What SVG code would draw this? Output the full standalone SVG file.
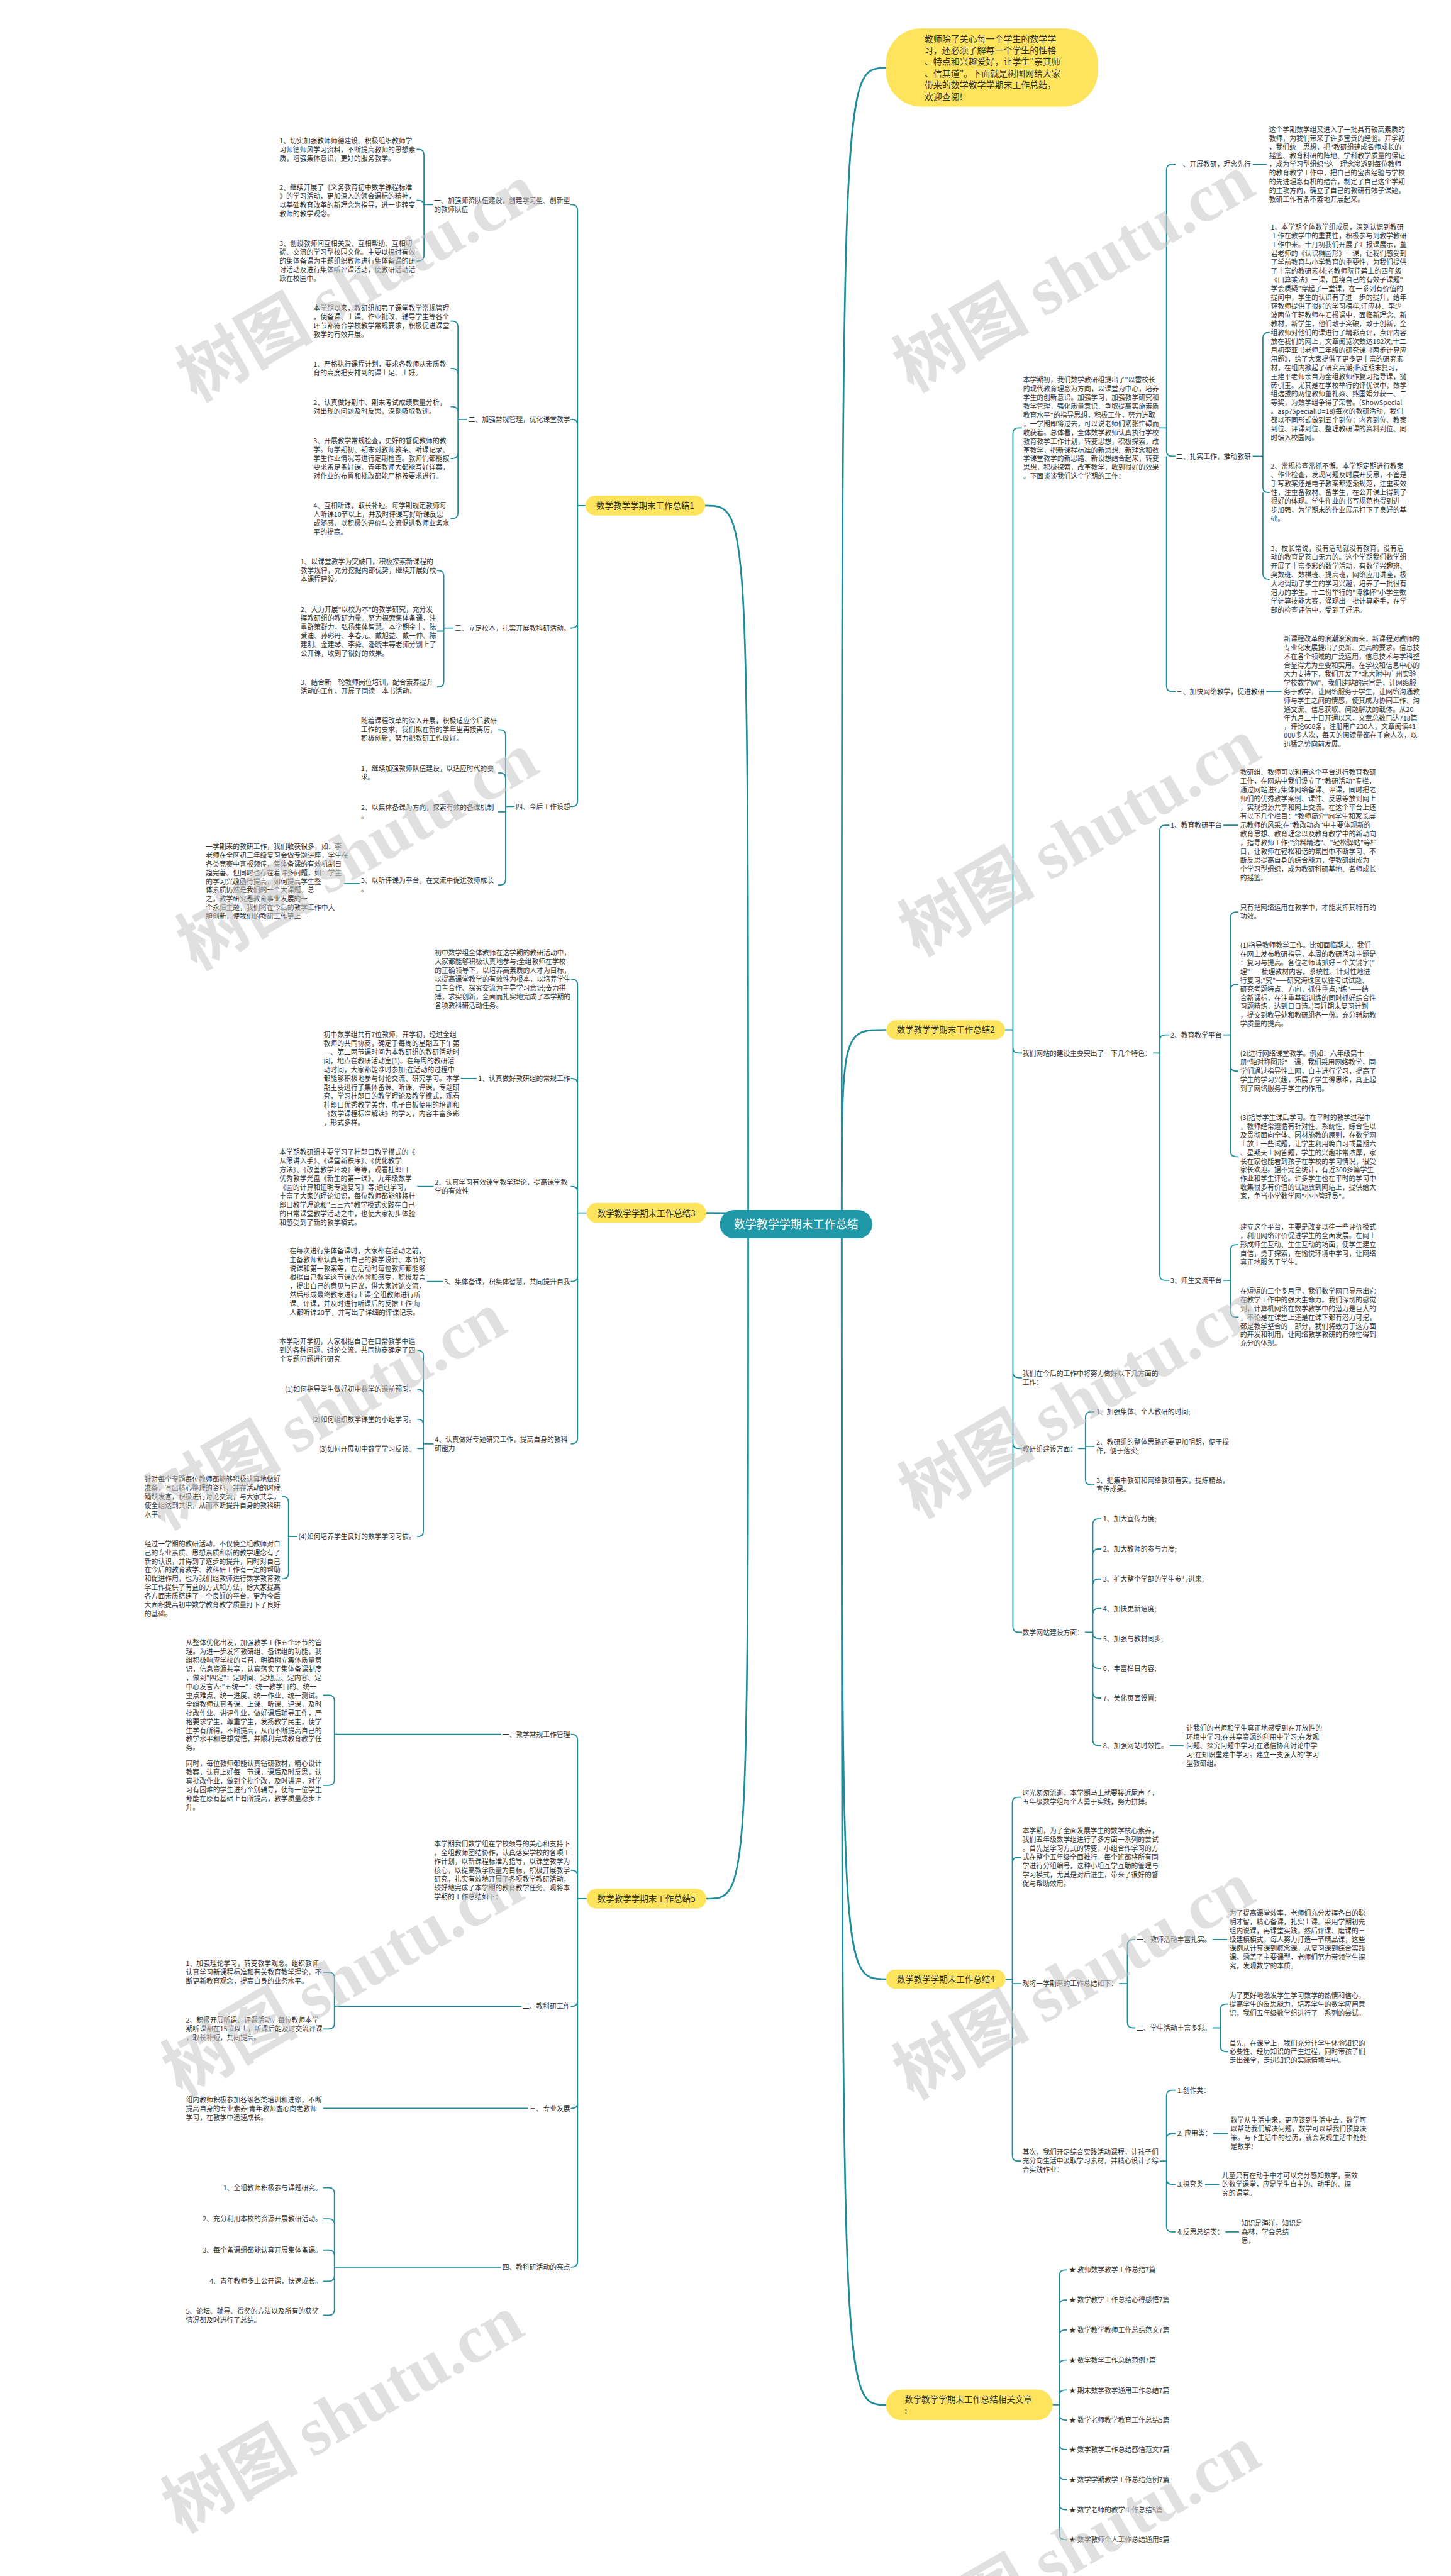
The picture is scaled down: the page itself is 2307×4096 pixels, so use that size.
<svg xmlns="http://www.w3.org/2000/svg" width="2307" height="4096" viewBox="0 0 2307 4096">
<style>
.t{font-family:"Noto Sans CJK SC","Noto Sans",sans-serif;font-size:12px;fill:#333}
.e{text-anchor:end}
.bt{font-family:"Noto Sans CJK SC","Noto Sans",sans-serif;font-size:15px;fill:#333;text-anchor:middle}
.c{fill:none;stroke:#1f8c9b;stroke-width:2}
.cr{fill:none;stroke:#1f8c9b;stroke-width:3}
.pill{fill:#fde45c}
.wm{font-family:"Noto Sans CJK SC",sans-serif;font-size:120px;font-weight:bold;fill:#c8c8c8;opacity:0.55}
</style>
<rect width="2307" height="4096" fill="#fff"/>
<g transform="scale(0.9012)">
<g id="connectors">
<path class="cr" d="M1485 2160C1485 120 1485 120 1563 120"/>
<path class="cr" d="M1485 2160C1485 1817 1485 1817 1564 1817"/>
<path class="cr" d="M1485 2160C1485 3492 1485 3492 1563 3492"/>
<path class="cr" d="M1485 2160C1485 4243 1485 4243 1563 4243"/>
<path class="cr" d="M1320 2160C1320 892 1320 892 1244 892"/>
<path class="cr" d="M1320 2160C1320 2140 1320 2140 1246 2140"/>
<path class="cr" d="M1320 2160C1320 3350 1320 3350 1246 3350"/>
<path class="c" d="M1773 1817H1787V765Q1787 755 1797 755H1803M1787 1817V1848Q1787 1858 1797 1858H1803M1787 1817V2421Q1787 2431 1797 2431H1803M1787 2421V2546Q1787 2556 1797 2556H1803M1787 2546V2870Q1787 2880 1797 2880H1803"/>
<path class="c" d="M2045 755H2058V300Q2058 290 2068 290H2074M2058 755V795Q2058 805 2068 805H2074M2058 805V1210Q2058 1220 2068 1220H2074"/>
<path class="c" d="M2210 290H2235M2234 1220H2261"/>
<path class="c" d="M2210 805H2228V596.5Q2228 586.5 2238 586.5H2240M2228 805V859Q2228 869 2238 869H2240M2228 869V1012Q2228 1022 2238 1022H2240"/>
<path class="c" d="M2034 1858H2046V1466Q2046 1456 2056 1456H2063M2046 1858V1836Q2046 1826 2056 1826H2063M2046 1858V2249Q2046 2259 2056 2259H2063"/>
<path class="c" d="M2158 1456H2184"/>
<path class="c" d="M2158 1826H2171V1619Q2171 1609 2181 1609H2185M2171 1826V1747Q2171 1737 2181 1737H2185M2171 1826V1880Q2171 1890 2181 1890H2185M2171 1880V2031Q2171 2041 2181 2041H2185"/>
<path class="c" d="M2158 2259H2171V2206Q2171 2196 2181 2196H2185M2171 2259V2314Q2171 2324 2181 2324H2185"/>
<path class="c" d="M1902 2556H1915V2501Q1915 2491 1925 2491H1931M1915 2556V2552H1931M1915 2556V2610Q1915 2620 1925 2620H1931"/>
<path class="c" d="M1914 2880H1928V2690Q1928 2680 1938 2680H1943M1928 2743Q1928 2733 1938 2733H1943M1928 2796Q1928 2786 1938 2786H1943M1928 2848Q1928 2838 1938 2838H1943M1928 2880V2881Q1928 2891 1938 2891H1943M1928 2881V2934Q1928 2944 1938 2944H1943M1928 2934V2986Q1928 2996 1938 2996H1943M1928 2986V3070Q1928 3080 1938 3080H1943"/>
<path class="c" d="M2064 3080H2088"/>
<path class="c" d="M1774 3492H1786V3181Q1786 3171 1796 3171H1802M1786 3287Q1786 3277 1796 3277H1802M1786 3492V3500H1802M1786 3500V3803Q1786 3813 1796 3813H1802"/>
<path class="c" d="M1974 3500H1989V3432Q1989 3422 1999 3422H2003M1989 3500V3568Q1989 3578 1999 3578H2003"/>
<path class="c" d="M2139 3422H2165"/>
<path class="c" d="M2139 3578H2153V3546Q2153 3536 2163 3536H2167M2153 3578V3610Q2153 3620 2163 3620H2167"/>
<path class="c" d="M2046 3813H2058V3698Q2058 3688 2068 3688H2074M2058 3774Q2058 3764 2068 3764H2074M2058 3813V3844Q2058 3854 2068 3854H2074M2058 3844V3928Q2058 3938 2068 3938H2074"/>
<path class="c" d="M2140 3764H2166M2126 3854H2151M2162 3938H2186"/>
<path class="c" d="M1857 4243H1869V4015Q1869 4005 1879 4005H1882M1869 4068Q1869 4058 1879 4058H1882M1869 4121Q1869 4111 1879 4111H1882M1869 4174Q1869 4164 1879 4164H1882M1869 4227Q1869 4217 1879 4217H1882M1869 4243V4260Q1869 4270 1879 4270H1882M1869 4260V4312Q1869 4322 1879 4322H1882M1869 4312V4365Q1869 4375 1879 4375H1882M1869 4365V4418Q1869 4428 1879 4428H1882M1869 4418V4471Q1869 4481 1879 4481H1882"/>
<path class="c" d="M1033 892H1019V371Q1019 361 1009 361H1006M1019 750Q1019 740 1009 740H1006M1019 892V1098Q1019 1108 1009 1108H1006M1019 1098V1413Q1019 1423 1009 1423H1006"/>
<path class="c" d="M764 361H748V273.5Q748 263.5 738 263.5H735M748 363.5Q748 353.5 738 353.5H735M748 361V450.5Q748 460.5 738 460.5H735"/>
<path class="c" d="M824 740H808V576.5Q808 566.5 798 566.5H795M808 660Q808 650 798 650H795M808 727.5Q808 717.5 798 717.5H795M808 740V799Q808 809 798 809H795M808 799V905Q808 915 798 915H795"/>
<path class="c" d="M800 1108H783V1016.5Q783 1006.5 773 1006.5H771M783 1108V1113.5H771M783 1113.5V1202Q783 1212 773 1212H771"/>
<path class="c" d="M908 1423H892V1297.5Q892 1287.5 882 1287.5H879M892 1373.5Q892 1363.5 882 1363.5H879M892 1423V1432.5H879M892 1432.5V1551.5Q892 1561.5 882 1561.5H879"/>
<path class="c" d="M635 1559H607"/>
<path class="c" d="M1035 2140H1019V1737.5Q1019 1727.5 1009 1727.5H1007M1019 1913Q1019 1903 1009 1903H1007M1019 2103.5Q1019 2093.5 1009 2093.5H1007M1019 2140V2251Q1019 2261 1009 2261H1007M1019 2251V2537.5Q1019 2547.5 1009 2547.5H1007"/>
<path class="c" d="M841 1903H813M765 2093.5H736M781 2261H753"/>
<path class="c" d="M765 2547.5H747V2392.5Q747 2382.5 737 2382.5H736M747 2461Q747 2451 737 2451H736M747 2514Q747 2504 737 2504H736M747 2547.5V2556H736M747 2556V2701Q747 2711 737 2711H736"/>
<path class="c" d="M524 2711H509V2650.5Q509 2640.5 499 2640.5H497M509 2711V2775.5Q509 2785.5 499 2785.5H497"/>
<path class="c" d="M1035 3350H1019V3070Q1019 3060 1009 3060H1007M1019 3350V3310Q1019 3300 1009 3300H1007M1019 3350V3530Q1019 3540 1009 3540H1007M1019 3530V3710Q1019 3720 1009 3720H1007M1019 3710V3990Q1019 4000 1009 4000H1007"/>
<path class="c" d="M884 3060H590V3001Q590 2991 580 2991H570M590 3060V3140Q590 3150 580 3150H570"/>
<path class="c" d="M920 3540H590V3490Q590 3480 580 3480H570M590 3540V3570Q590 3580 580 3580H570"/>
<path class="c" d="M932 3720H570"/>
<path class="c" d="M884 4000H590V3870Q590 3860 580 3860H570M590 3925Q590 3915 580 3915H570M590 3980Q590 3970 580 3970H570M590 4000V4015Q590 4025 580 4025H570M590 4015V4075Q590 4085 580 4085H570"/>
</g>

<g id="root">
<rect x="1270" y="2135" width="269" height="50" rx="25" fill="#1f98a8"/>
<text x="1404.5" y="2167" font-family="Noto Sans CJK SC,sans-serif" font-size="20" fill="#fff" text-anchor="middle">数学教学学期末工作总结</text>
</g>

<g id="intro">
<rect x="1563" y="50" width="374" height="138" rx="62" class="pill"/>
<text class="t" x="1631" y="74" style="font-size:15.5px"><tspan x="1631">教师除了关心每一个学生的数学学</tspan><tspan x="1631" dy="20.4">习，还必须了解每一个学生的性格</tspan><tspan x="1631" dy="20.4">、特点和兴趣爱好，让学生"亲其师</tspan><tspan x="1631" dy="20.4">、信其道"。下面就是树图网给大家</tspan><tspan x="1631" dy="20.4">带来的数学教学学期末工作总结，</tspan><tspan x="1631" dy="20.4">欢迎查阅!</tspan></text>
</g>

<g id="branch2">
<rect x="1564" y="1800" width="209" height="34" rx="17" class="pill"/>
<text class="bt" x="1668.5" y="1822.5">数学教学学期末工作总结2</text>
</g>
<g id="b2-intro">
<text class="t" x="1805" y="674.4"><tspan x="1805">本学期初，我们数学教研组提出了"以雷校长</tspan><tspan x="1805" dy="15.5">的现代教育理念为方向，以课堂为中心，培养</tspan><tspan x="1805" dy="15.5">学生的创新意识。加强学习，加强教学研究和</tspan><tspan x="1805" dy="15.5">教学管理，强化质量意识、争取提高实施素质</tspan><tspan x="1805" dy="15.5">教育水平"的指导思想，积极工作，努力进取</tspan><tspan x="1805" dy="15.5">，一学期即将过去，可以说老师们紧张忙碌而</tspan><tspan x="1805" dy="15.5">收获着。总体看，全体数学教师认真执行学校</tspan><tspan x="1805" dy="15.5">教育教学工作计划，转变思想，积极探索，改</tspan><tspan x="1805" dy="15.5">革教学，把新课程标准的新思想、新理念和数</tspan><tspan x="1805" dy="15.5">学课堂教学的新思路、新设想结合起来，转变</tspan><tspan x="1805" dy="15.5">思想，积极探索，改革教学，收到很好的效果</tspan><tspan x="1805" dy="15.5">。下面谈谈我们这个学期的工作：</tspan></text>
</g>
<g id="b2-s1">
<text class="t" x="2075" y="294.6">一、开展教研，理念先行</text>
<text class="t" x="2239" y="232.6"><tspan x="2239">这个学期数学组又进入了一批具有较高素质的</tspan><tspan x="2239" dy="15.5">教师，为我们带来了许多宝贵的经验。开学初</tspan><tspan x="2239" dy="15.5">，我们统一思想，把"教研组建成名师成长的</tspan><tspan x="2239" dy="15.5">摇篮、教育科研的阵地、学科教学质量的保证</tspan><tspan x="2239" dy="15.5">，成为学习型组织"这一理念渗透到每位教师</tspan><tspan x="2239" dy="15.5">的教育教学工作中，把自己的宝贵经验与学校</tspan><tspan x="2239" dy="15.5">的先进理念有机的结合，制定了自己这个学期</tspan><tspan x="2239" dy="15.5">的主攻方向，确立了自己的教研有效子课题，</tspan><tspan x="2239" dy="15.5">教研工作有条不紊地开展起来。</tspan></text>
</g>
<g id="b2-s2">
<text class="t" x="2075" y="809.6">二、扎实工作，推动教研</text>
<text class="t" x="2242" y="405.1"><tspan x="2242">1、本学期全体数学组成员，深刻认识到教研</tspan><tspan x="2242" dy="15.5">工作在教学中的重要性，积极参与到教学教研</tspan><tspan x="2242" dy="15.5">工作中来。十月初我们开展了汇报课展示，董</tspan><tspan x="2242" dy="15.5">君老师的《认识椭圆形》一课，让我们感受到</tspan><tspan x="2242" dy="15.5">了学前教育与小学教育的重要性，为我们提供</tspan><tspan x="2242" dy="15.5">了丰富的教研素材;老教师阮佳碧上的四年级</tspan><tspan x="2242" dy="15.5">《口算乘法》一课，围绕自己的有效子课题"</tspan><tspan x="2242" dy="15.5">学会质疑"穿起了一堂课，在一系列有价值的</tspan><tspan x="2242" dy="15.5">提问中，学生的认识有了进一步的提升，给年</tspan><tspan x="2242" dy="15.5">轻教师提供了很好的学习榜样;汪应林、李少</tspan><tspan x="2242" dy="15.5">波两位年轻教师在汇报课中，面临新理念、新</tspan><tspan x="2242" dy="15.5">教材，新学生，他们敢于突破，敢于创新，全</tspan><tspan x="2242" dy="15.5">组教师对他们的课进行了精彩点评，点评内容</tspan><tspan x="2242" dy="15.5">放在我们的网上，文章阅览次数达182次;十二</tspan><tspan x="2242" dy="15.5">月初李亚书老师三年级的研究课《两步计算应</tspan><tspan x="2242" dy="15.5">用题》，给了大家提供了更多更丰富的研究素</tspan><tspan x="2242" dy="15.5">材，在组内掀起了研究高潮;临近期末复习，</tspan><tspan x="2242" dy="15.5">王建平老师亲自为全组教师作复习指导课，抛</tspan><tspan x="2242" dy="15.5">砖引玉。尤其是在学校举行的评优课中，数学</tspan><tspan x="2242" dy="15.5">组选拔的两位教师董礼焱、熊国娟分获一、二</tspan><tspan x="2242" dy="15.5">等奖，为数学组争得了荣誉。(ShowSpecial</tspan><tspan x="2242" dy="15.5">。asp?SpecialID=18)每次的教研活动，我们</tspan><tspan x="2242" dy="15.5">都以不同形式做到五个到位：内容到位、教案</tspan><tspan x="2242" dy="15.5">到位、评课到位、整理教研课的资料到位、同</tspan><tspan x="2242" dy="15.5">时编入校园网。</tspan></text>
<text class="t" x="2242" y="827.1"><tspan x="2242">2、常规检查常抓不懈。本学期定期进行教案</tspan><tspan x="2242" dy="15.5">、作业检查，发现问题及时展开反思，不管是</tspan><tspan x="2242" dy="15.5">手写教案还是电子教案都逐渐规范，注重实效</tspan><tspan x="2242" dy="15.5">性，注重备教材、备学生，在公开课上得到了</tspan><tspan x="2242" dy="15.5">很好的体现。学生作业的书写规范也得到进一</tspan><tspan x="2242" dy="15.5">步加强，为学期末的作业展示打下了良好的基</tspan><tspan x="2242" dy="15.5">础。</tspan></text>
<text class="t" x="2242" y="972.4"><tspan x="2242">3、校长常说，没有活动就没有教育，没有活</tspan><tspan x="2242" dy="15.5">动的教育是苍白无力的。这个学期我们数学组</tspan><tspan x="2242" dy="15.5">开展了丰富多彩的数学活动，有数学兴趣班、</tspan><tspan x="2242" dy="15.5">奥数班、数棋班、提高班，网络应用讲座，极</tspan><tspan x="2242" dy="15.5">大地调动了学生的学习兴趣，培养了一批很有</tspan><tspan x="2242" dy="15.5">潜力的学生。十二份举行的"博雅杯"小学生数</tspan><tspan x="2242" dy="15.5">学计算技能大赛，涌现出一批计算能手，在学</tspan><tspan x="2242" dy="15.5">部的检查评估中，受到了好评。</tspan></text>
</g>
<g id="b2-s3">
<text class="t" x="2075" y="1224.6">三、加快网络教学，促进教研</text>
<text class="t" x="2265" y="1131.6"><tspan x="2265">新课程改革的浪潮滚滚而来，新课程对教师的</tspan><tspan x="2265" dy="15.5">专业化发展提出了更新、更高的要求。信息技</tspan><tspan x="2265" dy="15.5">术在各个领域的广泛运用，信息技术与学科整</tspan><tspan x="2265" dy="15.5">合显得尤为重要和实用。在学校和信息中心的</tspan><tspan x="2265" dy="15.5">大力支持下，我们开发了"北大附中广州实验</tspan><tspan x="2265" dy="15.5">学校数学网"，我们建站的宗旨是，让网络服</tspan><tspan x="2265" dy="15.5">务于教学，让网络服务于学生，让网络沟通教</tspan><tspan x="2265" dy="15.5">师与学生之间的情感，使其成为协同工作、沟</tspan><tspan x="2265" dy="15.5">通交流、信息获取、问题解决的载体。从20_</tspan><tspan x="2265" dy="15.5">年九月二十日开通以来，文章总数已达718篇</tspan><tspan x="2265" dy="15.5">，评论668条，注册用户230人，文章阅读41</tspan><tspan x="2265" dy="15.5">000多人次，每天的阅读量都在千余人次，以</tspan><tspan x="2265" dy="15.5">迅猛之势向前发展。</tspan></text>
</g>
<g id="b2-web">
<text class="t" x="1804" y="1862.6">我们网站的建设主要突出了一下几个特色：</text>
<text class="t" x="2065" y="1460.6">1、教育教研平台</text>
<text class="t" x="2188" y="1367.6"><tspan x="2188">教研组、教师可以利用这个平台进行教育教研</tspan><tspan x="2188" dy="15.5">工作，在网站中我们设立了"教研活动"专栏，</tspan><tspan x="2188" dy="15.5">通过网站进行集体网络备课、评课，同时把老</tspan><tspan x="2188" dy="15.5">师们的优秀教学案例、课件、反思等放到网上</tspan><tspan x="2188" dy="15.5">，实现资源共享和网上交流。在这个平台上还</tspan><tspan x="2188" dy="15.5">有以下几个栏目："教师简介"向学生和家长展</tspan><tspan x="2188" dy="15.5">示教师的风采;在"教改动态"中主要体现新的</tspan><tspan x="2188" dy="15.5">教育思想、教育理念以及教育教学中的新动向</tspan><tspan x="2188" dy="15.5">，指导教师工作;"资料精选"、"轻松驿站"等栏</tspan><tspan x="2188" dy="15.5">目，让教师在轻松和谐的氛围中不断学习、不</tspan><tspan x="2188" dy="15.5">断反思提高自身的综合能力，使教研组成为一</tspan><tspan x="2188" dy="15.5">个学习型组织，成为教研科研基地、名师成长</tspan><tspan x="2188" dy="15.5">的摇篮。</tspan></text>
<text class="t" x="2065" y="1830.6">2、教育教学平台</text>
<text class="t" x="2188" y="1605.9"><tspan x="2188">只有把网络运用在教学中，才能发挥其特有的</tspan><tspan x="2188" dy="15.5">功效。</tspan></text>
<text class="t" x="2188" y="1671.9"><tspan x="2188">(1)指导教师教学工作。比如面临期末，我们</tspan><tspan x="2188" dy="15.5">在网上发布教研指导，本周的教研活动主题是</tspan><tspan x="2188" dy="15.5">：复习与提高。各位老师请抓好三个关键字("</tspan><tspan x="2188" dy="15.5">理"——梳理教材内容，系统性、针对性地进</tspan><tspan x="2188" dy="15.5">行复习;"究"——研究海珠区以往考试试题、</tspan><tspan x="2188" dy="15.5">研究考题特点、方向，抓住重点;"练"——结</tspan><tspan x="2188" dy="15.5">合新课标，在注重基础训练的同时抓好综合性</tspan><tspan x="2188" dy="15.5">习题精炼，达到日日清。)写好期末复习计划</tspan><tspan x="2188" dy="15.5">，提交到教导处和教研组各一份。充分辅助教</tspan><tspan x="2188" dy="15.5">学质量的提高。</tspan></text>
<text class="t" x="2188" y="1863.6"><tspan x="2188">(2)进行网络课堂教学。例如：六年级第十一</tspan><tspan x="2188" dy="15.5">册"轴对称图形"一课，我们采用网络教学，同</tspan><tspan x="2188" dy="15.5">学们通过指导性上网，自主进行学习，提高了</tspan><tspan x="2188" dy="15.5">学生的学习兴趣，拓展了学生得思维，真正起</tspan><tspan x="2188" dy="15.5">到了网络服务于学生的作用。</tspan></text>
<text class="t" x="2188" y="1975.9"><tspan x="2188">(3)指导学生课后学习。在平时的教学过程中</tspan><tspan x="2188" dy="15.5">，教师经常遵循有针对性、系统性、综合性以</tspan><tspan x="2188" dy="15.5">及贯彻面向全体、因材施教的原则，在数学网</tspan><tspan x="2188" dy="15.5">上放上一些试题，让学生利用晚自习或星期六</tspan><tspan x="2188" dy="15.5">、星期天上网答题，学生的兴趣非常浓厚，家</tspan><tspan x="2188" dy="15.5">长在家也能看到孩子在学校的学习情况，很受</tspan><tspan x="2188" dy="15.5">家长欢迎。据不完全统计，有近300多篇学生</tspan><tspan x="2188" dy="15.5">作业和学生评论。许多学生也在平时的学习中</tspan><tspan x="2188" dy="15.5">收集很多有价值的试题放到网站上，提供给大</tspan><tspan x="2188" dy="15.5">家，争当小学数学网"小小管理员"。</tspan></text>
<text class="t" x="2065" y="2263.6">3、师生交流平台</text>
<text class="t" x="2188" y="2169.6"><tspan x="2188">建立这个平台，主要是改变以往一些评价模式</tspan><tspan x="2188" dy="15.5">，利用网络评价促进学生的全面发展。在网上</tspan><tspan x="2188" dy="15.5">形成师生互动、生生互动的场面，使学生建立</tspan><tspan x="2188" dy="15.5">自信，勇于探索，在愉悦环境中学习，让网络</tspan><tspan x="2188" dy="15.5">真正地服务于学生。</tspan></text>
<text class="t" x="2188" y="2282.1"><tspan x="2188">在短短的三个多月里，我们数学网已显示出它</tspan><tspan x="2188" dy="15.5">在教学工作中的强大生命力。我们深切的感觉</tspan><tspan x="2188" dy="15.5">到，计算机网络在数学教学中的潜力是巨大的</tspan><tspan x="2188" dy="15.5">，不论是在课堂上还是在课下都有潜力可挖，</tspan><tspan x="2188" dy="15.5">都是教学整合的一部分，我们将致力于这方面</tspan><tspan x="2188" dy="15.5">的开发和利用，让网络教学教研的有效性得到</tspan><tspan x="2188" dy="15.5">充分的体现。</tspan></text>
</g>
<g id="b2-future">
<text class="t" x="1804" y="2427.9"><tspan x="1804">我们在今后的工作中将努力做好以下几方面的</tspan><tspan x="1804" dy="15.5">工作：</tspan></text>
<text class="t" x="1804" y="2560.6">教研组建设方面：</text>
<text class="t" x="1934" y="2495.6">1、加强集体、个人教研的时间;</text>
<text class="t" x="1934" y="2548.9"><tspan x="1934">2、教研组的整体思路还要更加明朗，便于操</tspan><tspan x="1934" dy="15.5">作，便于落实;</tspan></text>
<text class="t" x="1934" y="2616.9"><tspan x="1934">3、把集中教研和网络教研着实，提炼精品，</tspan><tspan x="1934" dy="15.5">宣传成果。</tspan></text>
<text class="t" x="1804" y="2884.6">数学网站建设方面：</text>
<text class="t" x="1946" y="2684.6">1、加大宣传力度;</text>
<text class="t" x="1946" y="2737.6">2、加大教师的参与力度;</text>
<text class="t" x="1946" y="2790.6">3、扩大整个学部的学生参与进来;</text>
<text class="t" x="1946" y="2842.6">4、加快更新速度;</text>
<text class="t" x="1946" y="2895.6">5、加强与教材同步;</text>
<text class="t" x="1946" y="2948.6">6、丰富栏目内容;</text>
<text class="t" x="1946" y="3000.6">7、美化页面设置;</text>
<text class="t" x="1946" y="3084.6">8、加强网站时效性。</text>
<text class="t" x="2093" y="3053.6"><tspan x="2093">让我们的老师和学生真正地感受到在开放性的</tspan><tspan x="2093" dy="15.5">环境中学习;在共享资源的利用中学习;在发现</tspan><tspan x="2093" dy="15.5">问题、探究问题中学习;在通信协商讨论中学</tspan><tspan x="2093" dy="15.5">习;在知识重建中学习。建立一支强大的'学习</tspan><tspan x="2093" dy="15.5">型教研组。</tspan></text>
</g>

<g id="branch4">
<rect x="1563" y="3475" width="211" height="34" rx="17" class="pill"/>
<text class="bt" x="1668.5" y="3497.5">数学教学学期末工作总结4</text>
<text class="t" x="1804" y="3167.9"><tspan x="1804">时光匆匆流逝，本学期马上就要接近尾声了，</tspan><tspan x="1804" dy="15.5">五年级数学组每个人勇于实践，努力拼搏。</tspan></text>
<text class="t" x="1804" y="3235.1"><tspan x="1804">本学期，为了全面发展学生的数学核心素养，</tspan><tspan x="1804" dy="15.5">我们五年级数学组进行了多方面一系列的尝试</tspan><tspan x="1804" dy="15.5">。首先是学习方式的转变，小组合作学习的方</tspan><tspan x="1804" dy="15.5">式在整个五年级全面推行。每个班都将所有同</tspan><tspan x="1804" dy="15.5">学进行分组编号，这种小组互学互助的管理与</tspan><tspan x="1804" dy="15.5">学习模式，尤其是对后进生，带来了很好的督</tspan><tspan x="1804" dy="15.5">促与帮助效用。</tspan></text>
<text class="t" x="1804" y="3504.6">现将一学期来的工作总结如下：</text>
<text class="t" x="2005" y="3426.6">一、教师活动丰富扎实。</text>
<text class="t" x="2169" y="3380.1"><tspan x="2169">为了提高课堂效率，老师们充分发挥各自的聪</tspan><tspan x="2169" dy="15.5">明才智，精心备课，扎实上课。采用学期初先</tspan><tspan x="2169" dy="15.5">组内说课，再课堂实践，然后评课、磨课的三</tspan><tspan x="2169" dy="15.5">级建模模式，每人努力打造一节精品课，这些</tspan><tspan x="2169" dy="15.5">课例从计算课到概念课，从复习课到综合实践</tspan><tspan x="2169" dy="15.5">课，涵盖了主要课型，老师们努力带领学生探</tspan><tspan x="2169" dy="15.5">究，发现数学的本质。</tspan></text>
<text class="t" x="2005" y="3582.6">二、学生活动丰富多彩。</text>
<text class="t" x="2169" y="3525.1"><tspan x="2169">为了更好地激发学生学习数学的热情和信心，</tspan><tspan x="2169" dy="15.5">提高学生的反思能力，培养学生的数学应用意</tspan><tspan x="2169" dy="15.5">识，我们五年级数学组进行了一系列的尝试。</tspan></text>
<text class="t" x="2169" y="3609.1"><tspan x="2169">首先，在课堂上，我们充分让学生体验知识的</tspan><tspan x="2169" dy="15.5">必要性、经历知识的产生过程，同时带孩子们</tspan><tspan x="2169" dy="15.5">走出课堂，走进知识的实际情境当中。</tspan></text>
<text class="t" x="1804" y="3802.1"><tspan x="1804">其次，我们开足综合实践活动课程，让孩子们</tspan><tspan x="1804" dy="15.5">充分向生活中汲取学习素材，并精心设计了综</tspan><tspan x="1804" dy="15.5">合实践作业：</tspan></text>
<text class="t" x="2077" y="3692.6">1.创作类：</text>
<text class="t" x="2077" y="3768.6">2. 应用类：</text>
<text class="t" x="2171" y="3745.4"><tspan x="2171">数学从生活中来，更应该到生活中去。数学可</tspan><tspan x="2171" dy="15.5">以帮助我们解决问题，数学可以帮我们预算决</tspan><tspan x="2171" dy="15.5">策。写下生活中的经历，就会发现生活中处处</tspan><tspan x="2171" dy="15.5">是数学!</tspan></text>
<text class="t" x="2077" y="3858.6">3.探究类</text>
<text class="t" x="2156" y="3843.1"><tspan x="2156">儿童只有在动手中才可以充分感知数学，高效</tspan><tspan x="2156" dy="15.5">的数学课堂，应是学生自主的、动手的、探</tspan><tspan x="2156" dy="15.5">究的课堂。</tspan></text>
<text class="t" x="2077" y="3942.6">4.反思总结类：</text>
<text class="t" x="2190" y="3927.1"><tspan x="2190">知识是海洋，知识是</tspan><tspan x="2190" dy="15.5">森林，学会总结</tspan><tspan x="2190" dy="15.5">思，</tspan></text>
</g>

<g id="related">
<rect x="1563" y="4216" width="294" height="54" rx="27" class="pill"/>
<text class="t" x="1596" y="4238.5" style="font-size:15px"><tspan x="1596">数学教学学期末工作总结相关文章</tspan><tspan x="1596" dy="20.5">:</tspan></text>
<text class="t" x="1886" y="4009.6">★ 教师数学教学工作总结7篇</text>
<text class="t" x="1886" y="4062.6">★ 数学教学工作总结心得感悟7篇</text>
<text class="t" x="1886" y="4115.6">★ 数学教学教师工作总结范文7篇</text>
<text class="t" x="1886" y="4168.6">★ 数学教学工作总结范例7篇</text>
<text class="t" x="1886" y="4221.6">★ 期末数学教学通用工作总结7篇</text>
<text class="t" x="1886" y="4274.6">★ 数学老师教学教育工作总结5篇</text>
<text class="t" x="1886" y="4326.6">★ 数学教学工作总结感悟范文7篇</text>
<text class="t" x="1886" y="4379.6">★ 数学学期教学工作总结范例7篇</text>
<text class="t" x="1886" y="4432.6">★ 数学老师的教学工作总结5篇</text>
<text class="t" x="1886" y="4485.6">★ 数学教师个人工作总结通用5篇</text>
</g>

<g id="branch1">
<rect x="1033" y="874.5" width="211" height="35" rx="17.5" class="pill"/>
<text class="bt" x="1138.5" y="897.5">数学教学学期末工作总结1</text>
<text class="t" x="766" y="357.9"><tspan x="766">一、加强师资队伍建设，创建学习型、创新型</tspan><tspan x="766" dy="15.5">的教师队伍</tspan></text>
<text class="t" x="493" y="252.6"><tspan x="493">1、切实加强教师师德建设。积极组织教师学</tspan><tspan x="493" dy="15.5">习师德师风学习资料，不断提高教师的思想素</tspan><tspan x="493" dy="15.5">质，增强集体意识，更好的服务教学。</tspan></text>
<text class="t" x="493" y="334.9"><tspan x="493">2、继续开展了《义务教育初中数学课程标准</tspan><tspan x="493" dy="15.5">》的学习活动，更加深入的领会课标的精神，</tspan><tspan x="493" dy="15.5">以基础教育改革的新理念为指导，进一步转变</tspan><tspan x="493" dy="15.5">教师的教学观念。</tspan></text>
<text class="t" x="493" y="434.1"><tspan x="493">3、创设教师间互相关爱、互相帮助、互相切</tspan><tspan x="493" dy="15.5">磋、交流的学习型校园文化。主要以探讨有效</tspan><tspan x="493" dy="15.5">的集体备课为主题组织教师进行集体备课的研</tspan><tspan x="493" dy="15.5">讨活动及进行集体听评课活动，使教研活动活</tspan><tspan x="493" dy="15.5">跃在校园中。</tspan></text>
<text class="t e" x="1006" y="744.6">二、加强常规管理，优化课堂教学</text>
<text class="t" x="553" y="547.9"><tspan x="553">本学期以来，教研组加强了课堂教学常规管理</tspan><tspan x="553" dy="15.5">，使备课、上课、作业批改、辅导学生等各个</tspan><tspan x="553" dy="15.5">环节都符合学校教学常规要求，积极促进课堂</tspan><tspan x="553" dy="15.5">教学的有效开展。</tspan></text>
<text class="t" x="553" y="646.9"><tspan x="553">1、严格执行课程计划，要求各教师从素质教</tspan><tspan x="553" dy="15.5">育的高度把安排到的课上足、上好。</tspan></text>
<text class="t" x="553" y="714.4"><tspan x="553">2、认真做好期中、期末考试成绩质量分析，</tspan><tspan x="553" dy="15.5">对出现的问题及时反思，深刻吸取教训。</tspan></text>
<text class="t" x="553" y="782.6"><tspan x="553">3、开展教学常规检查，更好的督促教师的教</tspan><tspan x="553" dy="15.5">学。每学期初、期末对教师教案、听课记录、</tspan><tspan x="553" dy="15.5">学生作业情况等进行定期检查。教师们都能按</tspan><tspan x="553" dy="15.5">要求备足备好课，青年教师大都能写好详案，</tspan><tspan x="553" dy="15.5">对作业的布置和批改都能严格按要求进行。</tspan></text>
<text class="t" x="553" y="896.4"><tspan x="553">4、互相听课，取长补短。每学期规定教师每</tspan><tspan x="553" dy="15.5">人听课10节以上，并及时评课写好听课反思</tspan><tspan x="553" dy="15.5">或随感，以积极的评价与交流促进教师业务水</tspan><tspan x="553" dy="15.5">平的提高。</tspan></text>
<text class="t e" x="1006" y="1112.6">三、立足校本，扎实开展教科研活动。</text>
<text class="t" x="530" y="995.6"><tspan x="530">1、以课堂教学为突破口，积极探索新课程的</tspan><tspan x="530" dy="15.5">教学规律，充分挖掘内部优势，继续开展好校</tspan><tspan x="530" dy="15.5">本课程建设。</tspan></text>
<text class="t" x="530" y="1079.4"><tspan x="530">2、大力开展"以校为本"的教学研究，充分发</tspan><tspan x="530" dy="15.5">挥教研组的教研力量。努力探索集体备课，注</tspan><tspan x="530" dy="15.5">重群策群力，弘扬集体智慧。本学期金丰、陈</tspan><tspan x="530" dy="15.5">爱迪、孙彩丹、李春元、戴旭益、戴一仲、陈</tspan><tspan x="530" dy="15.5">建明、金建琴、李舜、潘晓丰等老师分别上了</tspan><tspan x="530" dy="15.5">公开课，收到了很好的效果。</tspan></text>
<text class="t" x="530" y="1208.9"><tspan x="530">3、结合新一轮教师岗位培训，配合素养提升</tspan><tspan x="530" dy="15.5">活动的工作，开展了同读一本书活动，</tspan></text>
<text class="t e" x="1006" y="1427.6">四、今后工作设想</text>
<text class="t" x="637" y="1276.6"><tspan x="637">随着课程改革的深入开展，积极适应今后教研</tspan><tspan x="637" dy="15.5">工作的要求，我们拟在新的学年里再接再厉，</tspan><tspan x="637" dy="15.5">积极创新，努力把教研工作做好。</tspan></text>
<text class="t" x="637" y="1360.4"><tspan x="637">1、继续加强教师队伍建设，以适应时代的要</tspan><tspan x="637" dy="15.5">求。</tspan></text>
<text class="t" x="637" y="1429.4"><tspan x="637">2、以集体备课为方向，探索有效的备课机制</tspan><tspan x="637" dy="15.5">。</tspan></text>
<text class="t" x="637" y="1558.4"><tspan x="637">3、以听评课为平台，在交流中促进教师成长</tspan><tspan x="637" dy="15.5">。</tspan></text>
<text class="t" x="363" y="1497.6"><tspan x="363">一学期来的教研工作，我们收获很多，如：李</tspan><tspan x="363" dy="15.5">老师在全区初三年级复习会做专题讲座，学生在</tspan><tspan x="363" dy="15.5">各类竞赛中喜报频传，集体备课的有效机制日</tspan><tspan x="363" dy="15.5">趋完善。但同时也存在着许多问题，如：学生</tspan><tspan x="363" dy="15.5">的学习兴趣函待提高，如何提高学生整</tspan><tspan x="363" dy="15.5">体素质仍然是我们的一个大课题。总</tspan><tspan x="363" dy="15.5">之，教学研究是教育事业发展的一</tspan><tspan x="363" dy="15.5">个永恒主题，我们将在今后的教学工作中大</tspan><tspan x="363" dy="15.5">胆创新，使我们的教研工作更上一</tspan></text>
</g>

<g id="branch3">
<rect x="1035" y="2122.5" width="211" height="35" rx="17.5" class="pill"/>
<text class="bt" x="1140.5" y="2145.5">数学教学学期末工作总结3</text>
<text class="t" x="767" y="1685.6"><tspan x="767">初中数学组全体教师在这学期的教研活动中，</tspan><tspan x="767" dy="15.5">大家都能够积极认真地参与;全组教师在学校</tspan><tspan x="767" dy="15.5">的正确领导下，以培养高素质的人才为目标，</tspan><tspan x="767" dy="15.5">以提高课堂教学的有效性为根本，以培养学生</tspan><tspan x="767" dy="15.5">自主合作、探究交流为主导学习意识;奋力拼</tspan><tspan x="767" dy="15.5">搏，求实创新，全面而扎实地完成了本学期的</tspan><tspan x="767" dy="15.5">各项教科研活动任务。</tspan></text>
<text class="t e" x="1006" y="1907.6">1、认真做好教研组的常规工作</text>
<text class="t" x="571" y="1830.1"><tspan x="571">初中数学组共有7位教师，开学初，经过全组</tspan><tspan x="571" dy="15.5">教师的共同协商，确定于每周的星期五下午第</tspan><tspan x="571" dy="15.5">一、第二两节课时间为本教研组的教研活动时</tspan><tspan x="571" dy="15.5">间，地点在教研活动室(1)。在每周的教研活</tspan><tspan x="571" dy="15.5">动时间，大家都能准时参加;在活动的过程中</tspan><tspan x="571" dy="15.5">都能够积极地参与讨论交流、研究学习。本学</tspan><tspan x="571" dy="15.5">期主要进行了集体备课、听课、评课，专题研</tspan><tspan x="571" dy="15.5">究，学习杜郎口的教学理论及教学模式，观看</tspan><tspan x="571" dy="15.5">杜郎口优秀教学关盘，电子白板使用的培训和</tspan><tspan x="571" dy="15.5">《数学课程标准解读》的学习，内容丰富多彩</tspan><tspan x="571" dy="15.5">，形式多样。</tspan></text>
<text class="t" x="767" y="2090.4"><tspan x="767">2、认真学习有效课堂教学理论，提高课堂教</tspan><tspan x="767" dy="15.5">学的有效性</tspan></text>
<text class="t" x="493" y="2037.1"><tspan x="493">本学期教研组主要学习了杜郎口教学模式的《</tspan><tspan x="493" dy="15.5">从限讲入手》、《课堂新秩序》、《优化教学</tspan><tspan x="493" dy="15.5">方法》、《改善教学环境》等等，观看杜郎口</tspan><tspan x="493" dy="15.5">优秀教学光盘《新生的第一课》、九年级数学</tspan><tspan x="493" dy="15.5">《圆的计算和证明专题复习》等;通过学习，</tspan><tspan x="493" dy="15.5">丰富了大家的理论知识，每位教师都能够将杜</tspan><tspan x="493" dy="15.5">郎口教学理论和"三三六"教学模式实践在自己</tspan><tspan x="493" dy="15.5">的日常课堂教学活动之中，也使大家初步体验</tspan><tspan x="493" dy="15.5">和感受到了新的教学模式。</tspan></text>
<text class="t e" x="1006" y="2265.6">3、集体备课，积集体智慧，共同提升自我</text>
<text class="t" x="511" y="2211.4"><tspan x="511">在每次进行集体备课时，大家都在活动之前，</tspan><tspan x="511" dy="15.5">主备教师都认真写出自己的教学设计、本节的</tspan><tspan x="511" dy="15.5">说课和第一教案等，在活动时每位教师都能够</tspan><tspan x="511" dy="15.5">根据自己教学这节课的体验和感受，积极发言</tspan><tspan x="511" dy="15.5">，提出自己的意见与建议，供大家讨论交流，</tspan><tspan x="511" dy="15.5">然后形成最终教案进行上课;全组教师进行听</tspan><tspan x="511" dy="15.5">课、评课，并及时进行听课后的反馈工作;每</tspan><tspan x="511" dy="15.5">人都听课20节，并写出了详细的评课记录。</tspan></text>
<text class="t" x="767" y="2544.4"><tspan x="767">4、认真做好专题研究工作，提高自身的教科</tspan><tspan x="767" dy="15.5">研能力</tspan></text>
<text class="t" x="493" y="2371.6"><tspan x="493">本学期开学初，大家根据自己在日常教学中遇</tspan><tspan x="493" dy="15.5">到的各种问题，讨论交流，共同协商确定了四</tspan><tspan x="493" dy="15.5">个专题问题进行研究</tspan></text>
<text class="t e" x="733" y="2455.6">(1)如何指导学生做好初中数学的课前预习。</text>
<text class="t e" x="733" y="2508.6">(2)如何组织数学课堂的小组学习。</text>
<text class="t e" x="733" y="2560.6">(3)如何开展初中数学学习反馈。</text>
<text class="t e" x="733" y="2715.6">(4)如何培养学生良好的数学学习习惯。</text>
<text class="t" x="255" y="2614.1"><tspan x="255">针对每个专题每位教师都能够积极认真地做好</tspan><tspan x="255" dy="15.5">准备，写出精心整理的资料，并在活动的时候</tspan><tspan x="255" dy="15.5">踊跃发言，积极进行讨论交流，与大家共享，</tspan><tspan x="255" dy="15.5">使全组达到共识，从而不断提升自身的教科研</tspan><tspan x="255" dy="15.5">水平。</tspan></text>
<text class="t" x="255" y="2728.1"><tspan x="255">经过一学期的教研活动，不仅使全组教师对自</tspan><tspan x="255" dy="15.5">己的专业素质、思想素质和新的教学理念有了</tspan><tspan x="255" dy="15.5">新的认识，并得到了逐步的提升，同时对自己</tspan><tspan x="255" dy="15.5">在今后的教育教学、教科研工作有一定的帮助</tspan><tspan x="255" dy="15.5">和促进作用，也为我们组教师进行数学教育教</tspan><tspan x="255" dy="15.5">学工作提供了有益的方式和方法，给大家提高</tspan><tspan x="255" dy="15.5">各方面素质搭建了一个良好的平台，更为今后</tspan><tspan x="255" dy="15.5">大面积提高初中数学教育教学质量打下了良好</tspan><tspan x="255" dy="15.5">的基础。</tspan></text>
</g>

<g id="branch5">
<rect x="1035" y="3332.5" width="211" height="35" rx="17.5" class="pill"/>
<text class="bt" x="1140.5" y="3355.5">数学教学学期末工作总结5</text>
<text class="t e" x="1006" y="3064.6">一、教学常规工作管理</text>
<text class="t" x="328" y="2902.6"><tspan x="328">从整体优化出发，加强教学工作五个环节的管</tspan><tspan x="328" dy="15.5">理。为进一步发挥教研组、备课组的功能，我</tspan><tspan x="328" dy="15.5">组积极响应学校的号召，明确树立集体质量意</tspan><tspan x="328" dy="15.5">识，信息资源共享，认真落实了集体备课制度</tspan><tspan x="328" dy="15.5">，做到"四定"：定时间、定地点、定内容、定</tspan><tspan x="328" dy="15.5">中心发言人;"五统一"：统一教学目的、统一</tspan><tspan x="328" dy="15.5">重点难点、统一进度、统一作业、统一测试。</tspan><tspan x="328" dy="15.5">全组教师认真备课、上课、听课、评课，及时</tspan><tspan x="328" dy="15.5">批改作业、讲评作业，做好课后辅导工作，严</tspan><tspan x="328" dy="15.5">格要求学生，尊重学生，发扬教学民主，使学</tspan><tspan x="328" dy="15.5">生学有所得，不断提高，从而不断提高自己的</tspan><tspan x="328" dy="15.5">教学水平和思想觉悟，并顺利完成教育教学任</tspan><tspan x="328" dy="15.5">务。</tspan></text>
<text class="t" x="328" y="3115.9"><tspan x="328">同时，每位教师都能认真钻研教材，精心设计</tspan><tspan x="328" dy="15.5">教案，认真上好每一节课，课后及时反思，认</tspan><tspan x="328" dy="15.5">真批改作业，做到全批全改，及时讲评，对学</tspan><tspan x="328" dy="15.5">习有困难的学生进行个别辅导，使每一位学生</tspan><tspan x="328" dy="15.5">都能在原有基础上有所提高，教学质量稳步上</tspan><tspan x="328" dy="15.5">升。</tspan></text>
<text class="t" x="766" y="3258.1"><tspan x="766">本学期我们数学组在学校领导的关心和支持下</tspan><tspan x="766" dy="15.5">，全组教师团结协作，认真落实学校的各项工</tspan><tspan x="766" dy="15.5">作计划，以新课程标准为指导，以课堂教学为</tspan><tspan x="766" dy="15.5">核心，以提高教学质量为目标，积极开展教学</tspan><tspan x="766" dy="15.5">研究，扎实有效地开展了各项教学教研活动，</tspan><tspan x="766" dy="15.5">较好地完成了本学期的教育教学任务。现将本</tspan><tspan x="766" dy="15.5">学期的工作总结如下：</tspan></text>
<text class="t e" x="1006" y="3544.6">二、教科研工作</text>
<text class="t" x="328" y="3469.1"><tspan x="328">1、加强理论学习，转变教学观念。组织教师</tspan><tspan x="328" dy="15.5">认真学习新课程标准和有关教育教学理论，不</tspan><tspan x="328" dy="15.5">断更新教育观念，提高自身的业务水平。</tspan></text>
<text class="t" x="328" y="3569.1"><tspan x="328">2、积极开展听课、评课活动。每位教师本学</tspan><tspan x="328" dy="15.5">期听课都在15节以上，听课后能及时交流评课</tspan><tspan x="328" dy="15.5">，取长补短，共同提高。</tspan></text>
<text class="t e" x="1006" y="3724.6">三、专业发展</text>
<text class="t" x="328" y="3709.1"><tspan x="328">组内教师积极参加各级各类培训和进修，不断</tspan><tspan x="328" dy="15.5">提高自身的专业素养;青年教师虚心向老教师</tspan><tspan x="328" dy="15.5">学习，在教学中迅速成长。</tspan></text>
<text class="t e" x="1006" y="4004.6">四、教科研活动的亮点</text>
<text class="t e" x="568" y="3864.6">1、全组教师积极参与课题研究。</text>
<text class="t e" x="568" y="3919.6">2、充分利用本校的资源开展教研活动。</text>
<text class="t e" x="568" y="3974.6">3、每个备课组都能认真开展集体备课。</text>
<text class="t e" x="568" y="4029.6">4、青年教师多上公开课，快速成长。</text>
<text class="t" x="328" y="4081.9"><tspan x="328">5、论坛、辅导、得奖的方法以及所有的获奖</tspan><tspan x="328" dy="15.5">情况都及时进行了总结。</tspan></text>
</g>

<g id="watermarks">
<text class="wm" transform="translate(1610 693) rotate(-30)">树图 <tspan font-family="Liberation Serif">shutu.cn</tspan></text>
<text class="wm" transform="translate(1620 1688) rotate(-30)">树图 <tspan font-family="Liberation Serif">shutu.cn</tspan></text>
<text class="wm" transform="translate(1620 2680) rotate(-30)">树图 <tspan font-family="Liberation Serif">shutu.cn</tspan></text>
<text class="wm" transform="translate(1610 3705) rotate(-30)">树图 <tspan font-family="Liberation Serif">shutu.cn</tspan></text>
<text class="wm" transform="translate(1620 4700) rotate(-30)">树图 <tspan font-family="Liberation Serif">shutu.cn</tspan></text>
<text class="wm" transform="translate(346 710) rotate(-30)">树图 <tspan font-family="Liberation Serif">shutu.cn</tspan></text>
<text class="wm" transform="translate(346 1713) rotate(-30)">树图 <tspan font-family="Liberation Serif">shutu.cn</tspan></text>
<text class="wm" transform="translate(290 2700) rotate(-30)">树图 <tspan font-family="Liberation Serif">shutu.cn</tspan></text>
<text class="wm" transform="translate(320 3700) rotate(-30)">树图 <tspan font-family="Liberation Serif">shutu.cn</tspan></text>
<text class="wm" transform="translate(320 4470) rotate(-30)">树图 <tspan font-family="Liberation Serif">shutu.cn</tspan></text>
</g>
</g>
</svg>
